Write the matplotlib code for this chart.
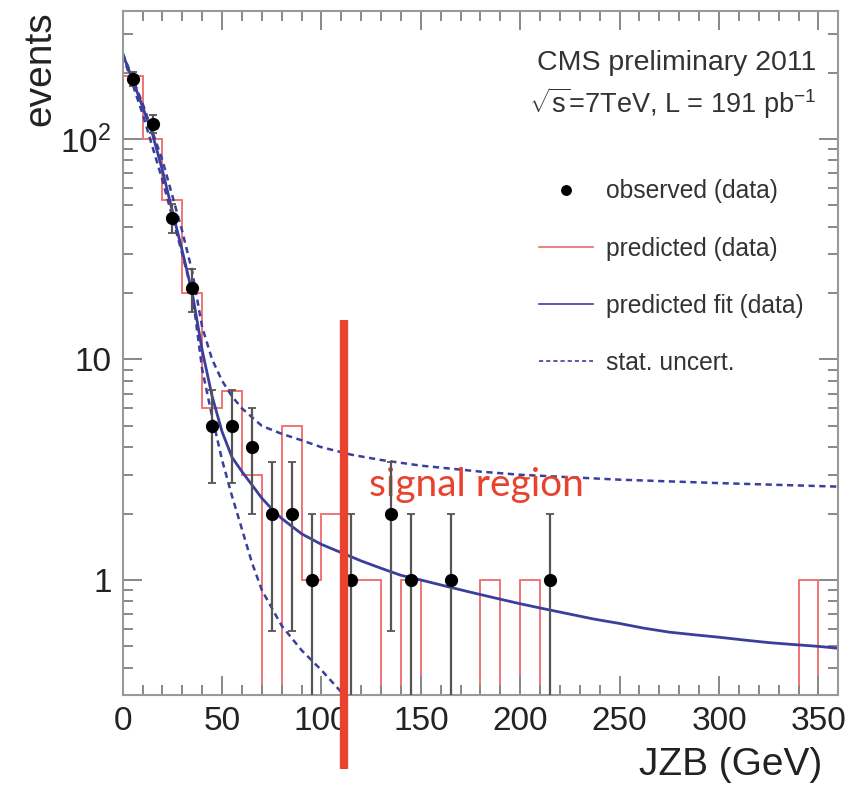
import matplotlib
matplotlib.use("Agg")
import matplotlib.pyplot as plt
import matplotlib.transforms as mtransforms
from matplotlib.ticker import FixedLocator, FixedFormatter, MultipleLocator, LogLocator, NullFormatter
import numpy as np

plt.rcParams['font.family'] = ['Liberation Sans', 'DejaVu Sans']
plt.rcParams['mathtext.fontset'] = 'custom'
plt.rcParams['mathtext.rm'] = 'Liberation Sans'
plt.rcParams['mathtext.it'] = 'Liberation Sans:italic'

# observed (data)
obs_x = [5, 15, 25, 35, 45, 55, 65, 75, 85, 95, 115, 135, 145, 165, 215]
obs_y = [187, 117, 44, 21, 5, 5, 4, 2, 2, 1, 1, 2, 1, 1, 1]

# predicted (data) histogram, 10 GeV bins
bin_edges = list(range(0, 370, 10))
pred_counts = [193, 100, 53, 20, 6, 7.2, 3, 0, 5, 1, 2, 1, 1, 0, 1, 0, 0, 0,
               1, 0, 1, 0, 0, 0, 0, 0, 0, 0, 0, 0, 0, 0, 0, 0, 1, 0]

# predicted fit and stat. uncertainty band
fit_x = [0, 5, 10, 15, 20, 25, 30, 35, 40, 45, 50, 55, 60, 65, 70, 75, 80, 90,
         100, 110, 120, 130, 140, 150, 162, 175, 187, 200, 212, 225, 237, 250,
         262, 275, 287, 300, 312, 325, 337, 350, 360]
fit_y = [243, 185, 140, 105, 72, 47, 31, 20, 11, 6.8, 4.7, 3.6, 3.1, 2.7, 2.35,
         2.1, 1.9, 1.62, 1.45, 1.33, 1.22, 1.13, 1.05, 1.0, 0.94, 0.88, 0.83,
         0.78, 0.74, 0.70, 0.665, 0.635, 0.605, 0.58, 0.565, 0.55, 0.535, 0.52,
         0.51, 0.50, 0.49]

up_x = [0, 10, 20, 30, 35, 40, 45, 50, 55, 60, 70, 80, 90, 100, 115, 130, 150,
        180, 200, 250, 300, 360]
up_y = [245, 145, 80, 38, 25, 14, 10, 8, 6.8, 6.0, 5.0, 4.6, 4.3, 4.0, 3.7, 3.5,
        3.3, 3.1, 3.0, 2.85, 2.75, 2.65]

lo_x = [0, 10, 20, 30, 35, 40, 45, 50, 55, 60, 65, 70, 80, 90, 100, 110, 112, 360]
lo_y = [240, 130, 65, 30, 20, 9, 5.5, 3.5, 2.4, 1.7, 1.2, 0.9, 0.62, 0.48, 0.39,
        0.31, 0.3, 0.3]

y_ticks = [1, 10, 100]
y_ticklabels = ['1', '10', '$10^{2}$']

fig = plt.figure(figsize=(8.58, 7.91), dpi=100)
ax = fig.add_axes([0.143, 0.121, 0.834, 0.865])

red = '#ee6a6a'
blue = '#3b3f9c'
txt = '#333333'

h_pred = ax.stairs(pred_counts, bin_edges, baseline=None, color=red, lw=1.3,
                   label='predicted (data)')
h_fit, = ax.plot(fit_x, fit_y, color=blue, lw=2.0, label='predicted fit (data)')
h_unc, = ax.plot(up_x, up_y, color=blue, lw=1.8, ls=(0, (2.5, 1.8)),
                 label='stat. uncert.')
ax.plot(lo_x, lo_y, color=blue, lw=1.8, ls=(0, (2.5, 1.8)))

yerr = np.sqrt(obs_y)
ax.errorbar(obs_x, obs_y, yerr=yerr, fmt='none', ecolor='#555555', elinewidth=1.6,
            capsize=3, capthick=1.3, zorder=4)
h_obs, = ax.plot(obs_x, obs_y, 'o', color='black', ms=8.5, zorder=5,
                 label='observed (data)')

ax.set_yscale('log')
ax.set_xlim(0, 360)
ax.set_ylim(0.3, 380)

ax.xaxis.set_major_locator(MultipleLocator(50))
ax.xaxis.set_minor_locator(MultipleLocator(10))
ax.yaxis.set_major_locator(FixedLocator(y_ticks))
ax.yaxis.set_major_formatter(FixedFormatter(y_ticklabels))
ax.yaxis.set_minor_locator(LogLocator(base=10, subs=np.arange(2, 10)))
ax.yaxis.set_minor_formatter(NullFormatter())

ax.tick_params(which='both', direction='in', top=True, right=True,
               color='#888888', width=1.4, labelsize=24, labelcolor='#222222')
ax.tick_params(which='major', length=14)
ax.tick_params(which='minor', length=7)
ax.tick_params(axis='x', pad=8)
ax.tick_params(axis='y', pad=8)
for s in ax.spines.values():
    s.set_color('#999999')
    s.set_linewidth(1.5)

ax.set_ylabel('events', fontsize=28, loc='top', color='#222222')
ax.yaxis.set_label_coords(-0.09, 1.0)
ax.set_xlabel('JZB (GeV)', fontsize=28, loc='right', color='#222222')
ax.xaxis.set_label_coords(0.978, -0.075)

ax.text(0.969, 0.924, 'CMS preliminary 2011', transform=ax.transAxes,
        ha='right', va='center', fontsize=20.5, color=txt)
ax.text(0.969, 0.865, r'$\sqrt{\mathrm{s}}$=7TeV, L = 191 pb$^{-1}$',
        transform=ax.transAxes, ha='right', va='center', fontsize=19.5, color=txt)

leg = ax.legend(handles=[h_obs, h_pred, h_fit, h_unc], loc='upper left',
                bbox_to_anchor=(0.582, 0.754), frameon=False, fontsize=17.7,
                labelspacing=1.35, handlelength=2.2, handletextpad=0.5,
                borderpad=0, borderaxespad=0, markerscale=0.8)
for t in leg.get_texts():
    t.set_color(txt)
for ln in leg.get_lines():
    ln.set_linewidth(1.2)

# signal region marker
trans = mtransforms.blended_transform_factory(ax.transData, ax.transAxes)
ax.plot([111.5, 111.5], [-0.107, 0.548], transform=trans, color='#e8432e',
        lw=6, clip_on=False, zorder=6, solid_capstyle='butt')
ax.text(124, 0.308, 'signal region', transform=trans, color='#e8432e',
        fontsize=28, family=['Lato', 'DejaVu Sans'], va='center', ha='left')

fig.savefig('out.png', dpi=100, facecolor='white')
